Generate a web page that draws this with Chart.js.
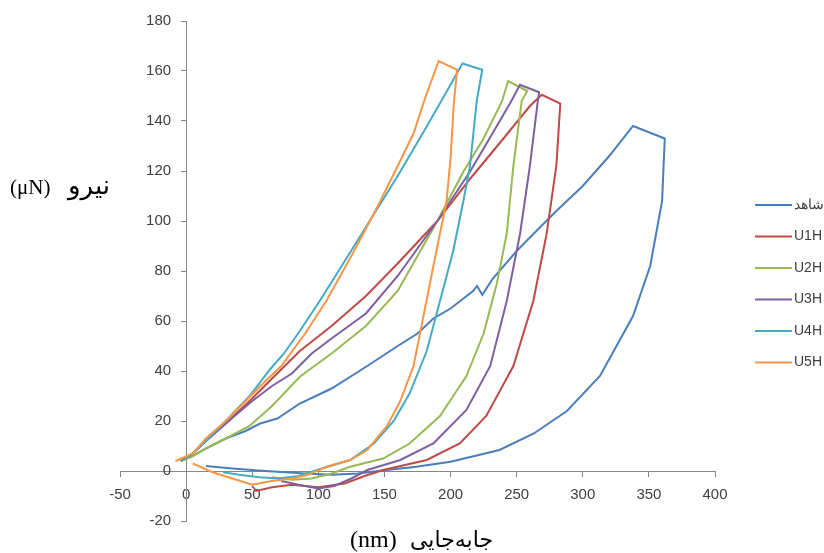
<!DOCTYPE html>
<html lang="fa">
<head>
  <meta charset="UTF-8" />
  <title>نیرو - جابه‌جایی</title>
  <script src="https://cdn.jsdelivr.net/npm/chart.js"></script>
  <style>
    body {
      margin: 0;
      background: #ffffff;
    }
    #wrap {
      position: relative;
      width: 824px;
      height: 553px;
    }
  </style>
</head>
<body>
  <div id="wrap">
    <canvas id="loadChart"></canvas>
  </div>

  <script>
    // series names (legend order)
    const seriesNames = ['شاهد', 'U1H', 'U2H', 'U3H', 'U4H', 'U5H'];

    // شاهد
    const controlX = [-4, 5, 15, 30, 45, 56, 69, 86, 110, 137, 160, 175, 187, 200, 217, 220, 224, 232, 250, 263, 280, 300, 320, 338, 362, 360, 351, 338, 313, 288, 263, 237, 200, 174, 150, 130, 110, 90, 60, 35, 15];
    const controlY = [4, 6, 9, 13, 16, 19, 21, 27, 33, 42, 50, 55, 61, 65, 72, 74, 70.5, 77, 88, 95, 104, 114, 126, 138, 133, 108, 82, 62, 38, 24, 15, 8.4, 3.7, 1.7, 0.3, -1, -1.5, -1, 0, 1, 2];

    // U1H
    const u1hX = [-4, 5, 15, 30, 48, 65, 86, 110, 136, 160, 190, 215, 240, 260, 269, 283, 280, 272.7, 262.6, 247.5, 227, 207, 182, 149, 135, 120, 100, 80, 65, 53, 50];
    const u1hY = [4, 7, 12, 19, 28, 37, 48, 58, 70, 83, 100, 117, 133, 146, 150.5, 147, 122, 95, 68, 42, 22, 11, 4.4, 0.4, -2, -5, -6.5, -5.5, -6.5, -8, -6];

    // U2H
    const u2hX = [-4, 5, 15, 30, 48, 65, 86, 110, 136, 160, 190, 210, 225, 239, 243.5, 258, 253.8, 247.5, 242.5, 235, 225, 212, 192, 169, 149, 124, 110, 95, 80, 65];
    const u2hY = [4, 6, 9, 13, 18, 26, 37.7, 47, 58, 72, 100, 120, 133, 148, 156, 152, 148, 122, 95, 75, 55, 38, 22, 11, 5, 1.7, -1, -3, -3.5, -2.5];

    // U3H
    const u3hX = [-4, 5, 15, 30, 50, 65, 80, 95, 110, 136, 160, 190, 215, 235, 246, 252.5, 267, 266, 260, 252.6, 242.5, 230, 212, 187, 162, 137, 125, 112, 100, 85, 72];
    const u3hY = [4, 7, 12, 19, 28, 34, 39, 47, 53, 63, 78, 100, 120, 138, 148, 154.5, 151.5, 148, 122, 95, 68, 42, 24.4, 11, 4.4, 0.4, -3, -6, -7, -5.5, -4];

    // U4H
    const u4hX = [-4, 5, 15, 30, 48, 64, 74, 86, 101, 120, 140, 160, 180, 193, 209, 224, 219.8, 214.7, 209.7, 202, 192, 182, 169, 157, 142, 124, 99, 85, 70, 55, 40, 28];
    const u4hY = [4, 7, 12, 20, 30, 41, 47, 56, 68, 84, 101, 118, 136, 148, 163, 160.5, 148, 122, 108, 88, 68, 48, 31, 20, 11, 4.4, 0.4, -2, -3, -2.5, -1.5, -0.5];

    // U5H
    const u5hX = [-8, 5, 15, 30, 45, 60, 72, 90, 106, 125, 145, 160, 172, 180, 191, 205, 202.6, 200, 197, 192, 187, 179.5, 172, 162, 152, 137, 124, 106, 92, 80, 65, 50, 35, 20, 5];
    const u5hY = [4, 7, 13, 20, 28, 36, 42, 55, 68, 86, 106, 122, 135, 148, 164, 160.5, 148, 125, 108, 95, 82, 62, 42, 28, 18, 8.4, 4.4, 1.7, -1.5, -3, -4, -5.5, -3, -0.5, 3];

    const xTicks = [-50, 0, 50, 100, 150, 200, 250, 300, 350, 400];
    const yTicks = [-20, 0, 20, 40, 60, 80, 100, 120, 140, 160, 180];

    const seriesX = [controlX, u1hX, u2hX, u3hX, u4hX, u5hX];
    const seriesY = [controlY, u1hY, u2hY, u3hY, u4hY, u5hY];
    const colors = ['#4a7ebb', '#be4b48', '#98b954', '#7d60a0', '#46aac5', '#f79646'];

    const axisColor = '#868686';
    const tickFont = { family: '"Liberation Sans", Arial, sans-serif', size: 15 };

    const datasets = seriesNames.map((name, i) => ({
      label: name,
      data: seriesX[i].map((x, j) => ({ x: x, y: seriesY[i][j] })),
      borderColor: colors[i],
      backgroundColor: colors[i],
      borderWidth: 2,
      pointRadius: 0,
      showLine: true,
      tension: 0,
      order: seriesNames.length - i // later series on top, like excel
    }));

    // y labels of an axis placed at x=0 sit right on the line, push them left
    function shiftYLabels(scale) {
      if (scale._shifted) return;
      scale._shifted = true;
      const compute = scale._computeLabelItems;
      scale._computeLabelItems = function (area) {
        const items = compute.call(this, area);
        items.forEach(item => { item.options.translation[0] -= 15; });
        return items;
      };
    }

    // legend on the right + the two axis titles
    const sideText = {
      id: 'sideText',
      afterDraw(chart) {
        const ctx = chart.ctx;
        ctx.save();

        ctx.font = '14px "Liberation Sans", Arial, sans-serif';
        ctx.textBaseline = 'middle';
        ctx.textAlign = 'left';
        seriesNames.forEach((name, i) => {
          const y = 205 + i * 31.5;
          ctx.strokeStyle = colors[i];
          ctx.lineWidth = 2;
          ctx.beginPath();
          ctx.moveTo(755, y);
          ctx.lineTo(792, y);
          ctx.stroke();
          ctx.fillStyle = '#404040';
          ctx.fillText(name, 794, y);
        });

        ctx.fillStyle = '#000000';
        ctx.textBaseline = 'alphabetic';
        // y title: (μN) نیرو
        ctx.font = '21px "Liberation Serif", "DejaVu Serif", serif';
        ctx.textAlign = 'left';
        ctx.fillText('(μN)', 10, 194);
        ctx.font = '26px "DejaVu Sans", sans-serif';
        ctx.textAlign = 'right';
        ctx.fillText('نیرو', 110, 194);
        // x title: (nm) جابه‌جایی
        ctx.font = '24px "Liberation Serif", "DejaVu Serif", serif';
        ctx.textAlign = 'left';
        ctx.fillText('(nm)', 350, 547);
        ctx.font = '22px "DejaVu Sans", sans-serif';
        ctx.textAlign = 'right';
        ctx.fillText('جابه\u200cجایی', 493, 547);
        ctx.restore();
      }
    };

    new Chart(document.getElementById('loadChart'), {
      type: 'scatter',
      data: { datasets: datasets },
      options: {
        responsive: true,
        maintainAspectRatio: false,
        animation: false,
        layout: {
          padding: { left: 120, right: 109, top: 21, bottom: 32 }
        },
        plugins: {
          legend: { display: false },
          tooltip: { enabled: false }
        },
        scales: {
          x: {
            type: 'linear',
            position: { y: 0 },
            min: -50,
            max: 400,
            afterBuildTicks: (scale) => { scale.ticks = xTicks.map(v => ({ value: v })); },
            ticks: { font: tickFont, color: '#404040', padding: 10 },
            grid: { drawOnChartArea: false, tickLength: 5, color: axisColor },
            border: { color: axisColor }
          },
          y: {
            type: 'linear',
            position: { x: 0 },
            min: -20,
            max: 180,
            afterBuildTicks: (scale) => { scale.ticks = yTicks.map(v => ({ value: v })); },
            afterUpdate: shiftYLabels,
            ticks: { font: tickFont, color: '#404040' },
            grid: { drawOnChartArea: false, tickLength: 5, color: axisColor },
            border: { color: axisColor }
          }
        }
      },
      plugins: [sideText]
    });
  </script>
</body>
</html>
